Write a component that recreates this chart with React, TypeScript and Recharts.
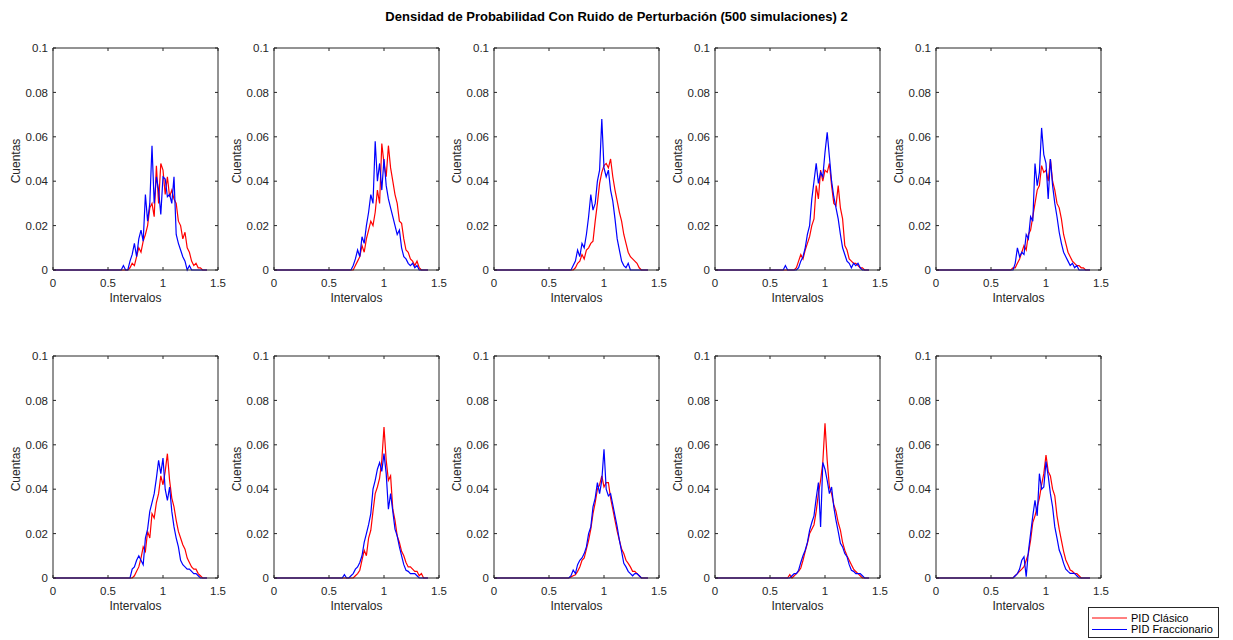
import React from 'react';
import { LineChart, Line, XAxis, YAxis, ReferenceLine } from 'recharts';

const TITLE = 'Densidad de Probabilidad Con Ruido de Perturbación (500 simulaciones) 2';
const X_LABEL = 'Intervalos';
const Y_LABEL = 'Cuentas';
const LEGEND_NAMES = ['PID Clásico', 'PID Fraccionario'];
const SERIES_COLORS = ['#ff0000', '#0000ff'];

const xTicks = [0, 0.5, 1, 1.5];
const xTickLabels = ['0', '0.5', '1', '1.5'];
const yTicks = [0, 0.02, 0.04, 0.06, 0.08, 0.1];
const yTickLabels = ['0', '0.02', '0.04', '0.06', '0.08', '0.1'];

const bins = [0,
  0.6, 0.62, 0.64, 0.66, 0.68,
  0.7, 0.72, 0.74, 0.76, 0.78,
  0.8, 0.82, 0.84, 0.86, 0.88,
  0.9, 0.92, 0.94, 0.96, 0.98,
  1.0, 1.02, 1.04, 1.06, 1.08,
  1.1, 1.12, 1.14, 1.16, 1.18,
  1.2, 1.22, 1.24, 1.26, 1.28,
  1.3, 1.32, 1.34, 1.36, 1.38,
  1.4];

const clasico1 = [0,
  0, 0, 0, 0, 0,
  0.001, 0.003, 0.002, 0.006, 0.010,
  0.008, 0.013, 0.016, 0.020, 0.028,
  0.030, 0.024, 0.047, 0.030, 0.048,
  0.045, 0.034, 0.042, 0.033, 0.036,
  0.032, 0.030, 0.022, 0.020, 0.014,
  0.017, 0.010, 0.008, 0.004, 0.002,
  0.003, 0.001, 0.001, 0, 0,
  0];
const fracc1 = [0,
  0, 0, 0.002, 0, 0,
  0.004, 0.007, 0.012, 0.006, 0.014,
  0.018, 0.013, 0.034, 0.022, 0.030,
  0.056, 0.030, 0.042, 0.036, 0.025,
  0.042, 0.041, 0.033, 0.034, 0.030,
  0.042, 0.016, 0.012, 0.009, 0.006,
  0.004, 0, 0.002, 0, 0,
  0, 0, 0, 0, 0,
  0];

const clasico2 = [0,
  0, 0, 0, 0, 0,
  0, 0, 0.002, 0.004, 0.006,
  0.011, 0.008, 0.014, 0.018, 0.022,
  0.020, 0.026, 0.036, 0.030, 0.057,
  0.048, 0.042, 0.056, 0.046, 0.040,
  0.034, 0.030, 0.022, 0.021, 0.014,
  0.009, 0.008, 0.005, 0.004, 0.002,
  0.004, 0.001, 0, 0, 0,
  0];
const fracc2 = [0,
  0, 0, 0, 0, 0,
  0, 0.002, 0.005, 0.009, 0.006,
  0.015, 0.012, 0.020, 0.026, 0.034,
  0.030, 0.058, 0.040, 0.048, 0.036,
  0.050, 0.038, 0.032, 0.028, 0.024,
  0.020, 0.016, 0.018, 0.010, 0.006,
  0.005, 0.003, 0.002, 0.003, 0.001,
  0.002, 0, 0, 0, 0,
  0];

const clasico3 = [0,
  0, 0, 0, 0, 0,
  0, 0, 0.001, 0.003, 0.004,
  0.007, 0.005, 0.009, 0.010, 0.012,
  0.013, 0.022, 0.030, 0.039, 0.044,
  0.047, 0.048, 0.046, 0.050, 0.042,
  0.036, 0.031, 0.026, 0.022, 0.016,
  0.012, 0.008, 0.006, 0.005, 0.004,
  0.003, 0.001, 0, 0, 0,
  0];
const fracc3 = [0,
  0, 0, 0, 0, 0,
  0, 0.002, 0.004, 0.009, 0.006,
  0.012, 0.010, 0.016, 0.024, 0.034,
  0.027, 0.030, 0.040, 0.045, 0.068,
  0.046, 0.042, 0.045, 0.036, 0.031,
  0.023, 0.014, 0.009, 0.004, 0.002,
  0.001, 0.003, 0, 0, 0,
  0, 0, 0, 0, 0,
  0];

const clasico4 = [0,
  0, 0, 0, 0, 0,
  0, 0, 0.001, 0.004, 0.007,
  0.005, 0.009, 0.012, 0.015, 0.020,
  0.023, 0.038, 0.032, 0.045, 0.040,
  0.045, 0.044, 0.048, 0.038, 0.030,
  0.029, 0.038, 0.028, 0.023, 0.011,
  0.009, 0.005, 0.004, 0.003, 0.003,
  0.002, 0.001, 0.001, 0, 0,
  0];
const fracc4 = [0,
  0, 0, 0.002, 0, 0,
  0, 0, 0, 0.001, 0.004,
  0.006, 0.010, 0.016, 0.020, 0.032,
  0.040, 0.048, 0.039, 0.044, 0.042,
  0.053, 0.062, 0.051, 0.040, 0.033,
  0.028, 0.023, 0.016, 0.010, 0.007,
  0.004, 0.003, 0.001, 0.003, 0.002,
  0.003, 0.001, 0, 0, 0,
  0];

const clasico5 = [0,
  0, 0, 0, 0, 0,
  0.001, 0.001, 0.003, 0.005, 0.008,
  0.011, 0.009, 0.016, 0.018, 0.024,
  0.030, 0.036, 0.038, 0.047, 0.044,
  0.045, 0.040, 0.050, 0.040, 0.036,
  0.030, 0.028, 0.023, 0.016, 0.012,
  0.008, 0.006, 0.004, 0.003, 0.002,
  0.002, 0.001, 0.001, 0, 0,
  0];
const fracc5 = [0,
  0, 0, 0, 0, 0,
  0, 0.003, 0.010, 0.006, 0.008,
  0.007, 0.016, 0.014, 0.024, 0.022,
  0.048, 0.038, 0.044, 0.064, 0.052,
  0.048, 0.032, 0.050, 0.038, 0.030,
  0.024, 0.017, 0.012, 0.008, 0.006,
  0.004, 0.002, 0.003, 0.001, 0.002,
  0, 0, 0, 0, 0,
  0];

const clasico6 = [0,
  0, 0, 0, 0, 0,
  0, 0, 0.001, 0.003, 0.005,
  0.009, 0.014, 0.012, 0.021, 0.018,
  0.029, 0.027, 0.034, 0.038, 0.046,
  0.042, 0.048, 0.056, 0.044, 0.036,
  0.032, 0.026, 0.021, 0.018, 0.015,
  0.013, 0.009, 0.007, 0.005, 0.004,
  0.004, 0.002, 0.001, 0, 0,
  0];
const fracc6 = [0,
  0, 0, 0, 0, 0,
  0, 0.004, 0.005, 0.008, 0.010,
  0.008, 0.006, 0.018, 0.022, 0.030,
  0.034, 0.038, 0.045, 0.053, 0.047,
  0.054, 0.040, 0.035, 0.041, 0.030,
  0.023, 0.018, 0.014, 0.008, 0.006,
  0.005, 0.004, 0.004, 0.003, 0.002,
  0.002, 0.001, 0, 0, 0,
  0];

const clasico7 = [0,
  0, 0, 0, 0, 0,
  0, 0, 0.001, 0.002, 0.0035,
  0.008, 0.0125, 0.010, 0.018, 0.0215,
  0.030, 0.038, 0.041, 0.045, 0.053,
  0.068, 0.053, 0.044, 0.046, 0.031,
  0.026, 0.019, 0.016, 0.012, 0.010,
  0.007, 0.005, 0.005, 0.004, 0.003,
  0.003, 0.001, 0.002, 0, 0,
  0];
const fracc7 = [0,
  0, 0, 0.0015, 0, 0,
  0.001, 0.002, 0.004, 0.005, 0.007,
  0.010, 0.016, 0.020, 0.024, 0.029,
  0.040, 0.044, 0.049, 0.052, 0.048,
  0.056, 0.047, 0.031, 0.038, 0.030,
  0.022, 0.019, 0.014, 0.010, 0.006,
  0.0035, 0.003, 0.002, 0.002, 0.002,
  0.001, 0, 0, 0, 0,
  0];

const clasico8 = [0,
  0, 0, 0, 0, 0,
  0.0005, 0.001, 0.0015, 0.003, 0.005,
  0.008, 0.009, 0.013, 0.017, 0.022,
  0.029, 0.034, 0.040, 0.042, 0.046,
  0.041, 0.043, 0.043, 0.036, 0.031,
  0.026, 0.021, 0.017, 0.013, 0.011,
  0.008, 0.0066, 0.005, 0.003, 0.003,
  0.002, 0.001, 0, 0, 0,
  0];
const fracc8 = [0,
  0, 0, 0, 0, 0,
  0.001, 0.0036, 0.002, 0.006, 0.008,
  0.009, 0.011, 0.014, 0.020, 0.023,
  0.032, 0.036, 0.043, 0.038, 0.044,
  0.058, 0.040, 0.037, 0.038, 0.033,
  0.028, 0.023, 0.017, 0.012, 0.0066,
  0.005, 0.003, 0.002, 0.001, 0.002,
  0.002, 0.001, 0, 0, 0,
  0];

const clasico9 = [0,
  0, 0, 0, 0, 0.0015,
  0, 0.001, 0.002, 0.003, 0.0045,
  0.008, 0.012, 0.0156, 0.020, 0.022,
  0.024, 0.030, 0.038, 0.044, 0.052,
  0.0697, 0.053, 0.041, 0.038, 0.033,
  0.030, 0.025, 0.0216, 0.016, 0.0125,
  0.010, 0.008, 0.006, 0.004, 0.0029,
  0.002, 0.001, 0, 0, 0,
  0];
const fracc9 = [0,
  0, 0, 0, 0, 0,
  0.001, 0.002, 0.002, 0.0035, 0.007,
  0.010, 0.0125, 0.016, 0.0215, 0.025,
  0.028, 0.036, 0.043, 0.023, 0.052,
  0.049, 0.044, 0.038, 0.041, 0.032,
  0.026, 0.021, 0.0156, 0.014, 0.011,
  0.0096, 0.006, 0.0035, 0.003, 0.002,
  0.002, 0.002, 0.001, 0, 0,
  0];

const clasico10 = [0,
  0, 0, 0, 0, 0,
  0, 0.001, 0.002, 0.003, 0.004,
  0.0051, 0.008, 0.011, 0.017, 0.025,
  0.028, 0.032, 0.036, 0.042, 0.047,
  0.0554, 0.048, 0.046, 0.040, 0.037,
  0.028, 0.022, 0.017, 0.012, 0.0081,
  0.006, 0.0036, 0.003, 0.002, 0.002,
  0.001, 0, 0, 0, 0,
  0];
const fracc10 = [0,
  0, 0, 0, 0, 0,
  0, 0.001, 0.002, 0.004, 0.008,
  0.0096, 0.0006, 0.012, 0.020, 0.028,
  0.035, 0.028, 0.047, 0.040, 0.041,
  0.0524, 0.046, 0.038, 0.032, 0.023,
  0.018, 0.0126, 0.010, 0.0066, 0.004,
  0.003, 0.0021, 0.0021, 0.0021, 0.001,
  0, 0, 0, 0, 0,
  0];

const panels = [
  [clasico1, fracc1], [clasico2, fracc2], [clasico3, fracc3], [clasico4, fracc4], [clasico5, fracc5],
  [clasico6, fracc6], [clasico7, fracc7], [clasico8, fracc8], [clasico9, fracc9], [clasico10, fracc10],
];

// layout constants
const FONT = '"Liberation Sans", Arial, Helvetica, sans-serif';
const AXIS_COLOR = '#262626';
const PLOT_W = 165;
const PLOT_H = 222;
const COL_LEFT = [53, 274, 494, 715, 936];
const ROW_TOP = [48, 356];
const Y_AXIS_W = 45;
const M_TOP = 8;
const M_RIGHT = 8;
const X_AXIS_H = 40;
const TICK_LEN = 3;
const X_TICK_MARGIN = 9;
const Y_TICK_MARGIN = 5;
const FS = 11.5;
const LABEL_FS = 12;

const XTick = (props: any) => {
  const { x, y, payload } = props;
  const axisY = y - X_TICK_MARGIN;
  const idx = xTicks.indexOf(payload.value);
  return (
    <g>
      <line x1={x} x2={x} y1={axisY} y2={axisY - TICK_LEN} stroke={AXIS_COLOR} strokeWidth={1} />
      <line x1={x} x2={x} y1={axisY - PLOT_H} y2={axisY - PLOT_H + TICK_LEN} stroke={AXIS_COLOR} strokeWidth={1} />
      <text x={x} y={y} dy="0.72em" textAnchor="middle" fill={AXIS_COLOR} fontSize={FS} fontFamily={FONT}>
        {idx >= 0 ? xTickLabels[idx] : String(payload.value)}
      </text>
    </g>
  );
};

const YTick = (props: any) => {
  const { x, y, payload } = props;
  const axisX = x + Y_TICK_MARGIN;
  const idx = yTicks.indexOf(payload.value);
  return (
    <g>
      <line x1={axisX} x2={axisX + TICK_LEN} y1={y} y2={y} stroke={AXIS_COLOR} strokeWidth={1} />
      <line x1={axisX + PLOT_W} x2={axisX + PLOT_W - TICK_LEN} y1={y} y2={y} stroke={AXIS_COLOR} strokeWidth={1} />
      <text x={x} y={y} dy="0.36em" textAnchor="end" fill={AXIS_COLOR} fontSize={FS} fontFamily={FONT}>
        {idx >= 0 ? yTickLabels[idx] : String(payload.value)}
      </text>
    </g>
  );
};

const XLabel = (props: any) => {
  const vb = props.viewBox || {};
  const cx = (vb.x ?? Y_AXIS_W) + (vb.width ?? PLOT_W) / 2;
  const y0 = vb.y ?? M_TOP + PLOT_H;
  return (
    <text x={cx} y={y0 + 28} dy="0.36em" textAnchor="middle" fill={AXIS_COLOR} fontSize={LABEL_FS} fontFamily={FONT}>
      {X_LABEL}
    </text>
  );
};

const YLabel = (props: any) => {
  const vb = props.viewBox || {};
  const cy = (vb.y ?? M_TOP) + (vb.height ?? PLOT_H) / 2 + 2;
  const cx = 8;
  return (
    <text x={cx} y={cy} dy="0.36em" textAnchor="middle" fill={AXIS_COLOR} fontSize={LABEL_FS} fontFamily={FONT}
      transform={`rotate(-90 ${cx} ${cy})`}>
      {Y_LABEL}
    </text>
  );
};

const Panel = ({ left, top, red, blue }: { left: number; top: number; red: number[]; blue: number[] }) => {
  const data = bins.map((x, i) => ({ x, clasico: red[i], fracc: blue[i] }));
  return (
    <div style={{ position: 'absolute', left: left - Y_AXIS_W, top: top - M_TOP }}>
      <LineChart width={Y_AXIS_W + PLOT_W + M_RIGHT} height={M_TOP + PLOT_H + X_AXIS_H} data={data}
        margin={{ top: M_TOP, right: M_RIGHT, left: 0, bottom: 0 }}>
        <XAxis dataKey="x" type="number" domain={[0, 1.5]} ticks={xTicks} interval={0}
          height={X_AXIS_H} tickSize={0} tickMargin={X_TICK_MARGIN} tickLine={false}
          axisLine={{ stroke: AXIS_COLOR, strokeWidth: 1 }} tick={(p: any) => <XTick {...p} />}
          label={{ content: (p: any) => <XLabel {...p} /> }} />
        <YAxis type="number" domain={[0, 0.1]} ticks={yTicks} interval={0} width={Y_AXIS_W}
          tickSize={0} tickMargin={Y_TICK_MARGIN} tickLine={false}
          axisLine={{ stroke: AXIS_COLOR, strokeWidth: 1 }} tick={(p: any) => <YTick {...p} />}
          label={{ content: (p: any) => <YLabel {...p} /> }} />
        <ReferenceLine x={1.5} stroke={AXIS_COLOR} strokeWidth={1} />
        <ReferenceLine y={0.1} stroke={AXIS_COLOR} strokeWidth={1} />
        <Line type="linear" dataKey="clasico" name={LEGEND_NAMES[0]} stroke={SERIES_COLORS[0]} strokeWidth={1.2}
          dot={false} activeDot={false} isAnimationActive={false} />
        <Line type="linear" dataKey="fracc" name={LEGEND_NAMES[1]} stroke={SERIES_COLORS[1]} strokeWidth={1.2}
          dot={false} activeDot={false} isAnimationActive={false} />
      </LineChart>
    </div>
  );
};

export default function App() {
  return (
    <div style={{ position: 'absolute', left: 0, top: 0, width: 1233, height: 640, background: '#ffffff', overflow: 'hidden', fontFamily: FONT }}>
      <div style={{ position: 'absolute', left: 0, top: 9, width: 1233, textAlign: 'center', fontSize: 13, fontWeight: 'bold', color: '#000', fontFamily: FONT, lineHeight: '16px' }}>
        {TITLE}
      </div>
      {panels.map((p, i) => (
        <Panel key={i} left={COL_LEFT[i % 5]} top={ROW_TOP[Math.floor(i / 5)]} red={p[0]} blue={p[1]} />
      ))}
      <svg style={{ position: 'absolute', left: 1088, top: 607 }} width={132} height={32}>
        <rect x={0.5} y={0.5} width={130} height={30} fill="#ffffff" stroke={AXIS_COLOR} strokeWidth={1} />
        {LEGEND_NAMES.map((name, i) => (
          <g key={name}>
            <line x1={4} x2={39} y1={11 + i * 11.5} y2={11 + i * 11.5} stroke={SERIES_COLORS[i]} strokeWidth={1} />
            <text x={43} y={11 + i * 11.5} dy="0.36em" fontSize={11} fill="#000" fontFamily={FONT}>{name}</text>
          </g>
        ))}
      </svg>
    </div>
  );
}
